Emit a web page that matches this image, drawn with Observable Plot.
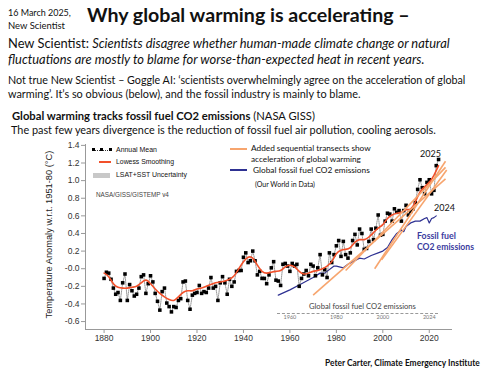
<!DOCTYPE html>
<html><head><meta charset="utf-8">
<script src="https://cdn.jsdelivr.net/npm/d3@7"></script>
<script src="https://cdn.jsdelivr.net/npm/@observablehq/plot@0.6"></script>
<style>
body{margin:0;background:#fff;}
#page{position:relative;width:500px;height:375px;overflow:hidden;font-family:Lato,"Noto Sans",sans-serif;color:#111;}
.t{position:absolute;white-space:nowrap;line-height:1.2;}
.sw{position:absolute;}
#chart{position:absolute;left:0;top:135px;}
</style></head><body><div id="page"><div id="chart"></div></div>
<script>
// ---------- data ----------
const years = d3.range(1880, 2025);
const anomaly = [
-0.11,-0.04,-0.05,-0.12,-0.22,-0.29,-0.27,-0.36,-0.16,-0.06,
-0.36,-0.18,-0.25,-0.31,-0.29,-0.22,-0.09,-0.07,-0.28,-0.17,
-0.08,-0.15,-0.28,-0.37,-0.47,-0.26,-0.22,-0.39,-0.43,-0.49,
-0.43,-0.44,-0.36,-0.34,-0.15,-0.14,-0.36,-0.46,-0.30,-0.28,
-0.27,-0.19,-0.28,-0.26,-0.27,-0.22,-0.10,-0.22,-0.20,-0.36,
-0.16,-0.09,-0.16,-0.29,-0.12,-0.20,-0.15,-0.03,-0.02,-0.02,
0.13,0.18,0.07,0.09,0.20,0.09,-0.07,-0.03,-0.11,-0.11,
-0.17,-0.07,0.01,0.08,-0.13,-0.14,-0.19,0.05,0.06,0.03,
-0.03,0.06,0.03,0.05,-0.20,-0.11,-0.06,-0.02,-0.08,0.05,
0.03,-0.08,0.01,0.16,-0.07,-0.01,-0.10,0.18,0.07,0.16,
0.26,0.32,0.14,0.31,0.16,0.12,0.18,0.32,0.39,0.27,
0.45,0.40,0.22,0.23,0.31,0.45,0.33,0.46,0.61,0.38,
0.39,0.54,0.63,0.62,0.54,0.68,0.64,0.66,0.54,0.66,
0.72,0.61,0.65,0.68,0.75,0.90,1.01,0.92,0.85,0.98,
1.01,0.85,0.89,1.17,1.24];
const lowessYears = d3.range(1880, 2025, 2);
const lowess = [
-0.05,-0.09,-0.17,-0.21,-0.22,-0.22,-0.21,-0.20,-0.16,-0.13,
-0.17,-0.23,-0.28,-0.32,-0.35,-0.36,-0.32,-0.27,-0.25,-0.25,
-0.23,-0.22,-0.20,-0.18,-0.16,-0.15,-0.14,-0.12,-0.08,0.00,
0.08,0.13,0.12,0.04,-0.03,-0.05,-0.04,-0.03,-0.02,0.02,
0.04,0.02,-0.03,-0.06,-0.05,-0.03,-0.02,0.00,0.03,0.08,
0.17,0.21,0.22,0.24,0.30,0.33,0.33,0.36,0.41,0.46,
0.50,0.57,0.61,0.63,0.64,0.67,0.68,0.76,0.87,0.93,
0.98,1.06,1.17];
const co2Years = [1955,1960,1965,1970,1973,1975,1979,1980,1983,1985,1990,1992,1995,1998,2000,2002,2004,2006,2008,2009,2010,2012,2014,2016,2018,2019,2020,2021,2022,2023];
const co2Trace = [-0.30,-0.24,-0.17,-0.10,-0.05,-0.05,0.03,0.03,0.01,0.05,0.12,0.11,0.15,0.18,0.20,0.24,0.33,0.40,0.44,0.42,0.48,0.52,0.54,0.54,0.57,0.58,0.52,0.57,0.58,0.60];
const transectStartYear = [1970, 1984, 1996.5, 1999.5];
const transectStartValue = [-0.30, -0.02, 0.00, 0.10];
const transectEndYear = [2027, 2027, 2027, 2027.5];
const transectEndValue = [1.02, 1.15, 1.22, 1.12];
const xTicks = [1880,1900,1920,1940,1960,1980,2000,2020];
const yTicks = [-0.6,-0.4,-0.2,0,0.2,0.4,0.6,0.8,1.0,1.2,1.4];
const yTickLabels = ["-0.6","-0.4","-0.2","-0.0","0.2","0.4","0.6","0.8","1.0","1.2","1.4"];
const insetTickYears = [1960,1980,2000,2020];
const insetTickLabels = ["1960","1980","2000","2024"];
const xDomain = [1872, 2030];
const yDomain = [-0.69, 1.41];

const annual = years.map((y,i)=>({year:y, value:anomaly[i]}));
const smooth = lowessYears.map((y,i)=>({year:y, value:lowess[i]}));
const co2 = co2Years.map((y,i)=>({year:y, value:co2Trace[i]}));
const transects = transectStartYear.map((y,i)=>({x1:y, y1:transectStartValue[i], x2:transectEndYear[i], y2:transectEndValue[i]}));
const insetTicks = insetTickYears.map((y,i)=>({year:y, label:insetTickLabels[i]}));

const chart = Plot.plot({
  width: 500, height: 215,
  marginLeft: 85, marginRight: 48, marginTop: 9, marginBottom: 21,
  style: {fontFamily: "'Liberation Sans', Arial, sans-serif", background: "transparent"},
  x: {domain: xDomain},
  y: {domain: yDomain},
  marks: [
    Plot.ruleX([xDomain[0]], {stroke: "#999", strokeWidth: 1}),
    Plot.ruleY([yDomain[0]], {stroke: "#999", strokeWidth: 1}),
    Plot.axisX({ticks: xTicks, tickFormat: d => String(d), tickSize: 4, tickPadding: 1, fontSize: 8.5, stroke: "#999", fill: "#333", label: null}),
    Plot.axisY({ticks: yTicks, tickFormat: (d,i) => yTickLabels[i], tickSize: 4, tickPadding: 2, fontSize: 8.5, stroke: "#999", fill: "#333", label: null}),
    Plot.text(insetTicks, {x: "year", text: "label", frameAnchor: "bottom", dy: -11, fontSize: 5.5, fill: "#777", fontFamily: "Lato, sans-serif"}),
    Plot.line(co2, {x: "year", y: "value", stroke: "#2e3192", strokeWidth: 1.2}),
    Plot.line(annual, {x: "year", y: "value", stroke: "#555", strokeWidth: 0.6, strokeDasharray: "1.2,1"}),
    Plot.dot(annual, {x: "year", y: "value", symbol: "square", r: 2, fill: "#000", stroke: "none"}),
    Plot.line(smooth, {x: "year", y: "value", stroke: "#f2502a", strokeWidth: 1.6, curve: "natural"}),
    Plot.link(transects, {x1: "x1", y1: "y1", x2: "x2", y2: "y2", stroke: "#f7a56e", strokeWidth: 1.6})
  ]
});
document.getElementById("chart").appendChild(chart);

// ---------- text & legend ----------
const page = document.getElementById("page");
const texts = [
  {h:"16 March 2025,", x:8, cy:13, w:63, fs:8},
  {h:"New Scientist", x:8, cy:25, w:57, fs:8},
  {h:"Why global warming is accelerating –", x:87, cy:15, w:323, fs:17, b:1},
  {h:"New Scientist: <i>Scientists disagree whether human-made climate change or natural</i>", x:8, cy:43, w:442, fs:11},
  {h:"<i>fluctuations are mostly to blame for worse-than-expected heat in recent years.</i>", x:8, cy:59, w:417, fs:11},
  {h:"Not true New Scientist – Goggle AI: ‘scientists overwhelmingly agree on the acceleration of global", x:8, cy:80, w:458, fs:9.5},
  {h:"warming’. It’s so obvious (below), and the fossil industry is mainly to blame.", x:8, cy:93, w:353, fs:9.5},
  {h:"<b>Global warming tracks fossil fuel CO2 emissions</b> (NASA GISS)", x:12, cy:115, w:303, fs:9.5},
  {h:"The past few years divergence is the reduction of fossil fuel air pollution, cooling aerosols.", x:11, cy:129, w:425, fs:9.5},
  {h:"Annual Mean", x:116, cy:150, w:41, fs:7, f:"'Liberation Sans',Arial"},
  {h:"Lowess Smoothing", x:116, cy:162, w:58, fs:7, f:"'Liberation Sans',Arial"},
  {h:"LSAT+SST Uncertainty", x:116, cy:175, w:71, fs:7, f:"'Liberation Sans',Arial"},
  {h:"NASA/GISS/GISTEMP v4", x:96, cy:195, w:73, fs:5.5, f:"'Liberation Sans',Arial", c:"#444"},
  {h:"Added sequential transects show", x:251, cy:149, w:120, fs:8},
  {h:"acceleration of global warming", x:251, cy:159.5, w:110, fs:8},
  {h:"Global fossil fuel CO2 emissions", x:253, cy:170, w:117, fs:8},
  {h:"(Our World in Data)", x:255, cy:184, w:60, fs:6},
  {h:"2025", x:420, cy:154, w:21, fs:9},
  {h:"2024", x:434, cy:208, w:21, fs:9},
  {h:"Fossil fuel", x:417, cy:236.5, w:39, fs:8, b:1, c:"#3b3b9e"},
  {h:"CO2 emissions", x:417, cy:246.5, w:57, fs:8, b:1, c:"#3b3b9e"},
  {h:"Global fossil fuel CO2 emissions", x:309, cy:306, w:107, fs:7, c:"#444"},
  {h:"Peter Carter, Climate Emergency Institute", x:325, cy:363, w:155, fs:6.5, b:1},
  {h:"Temperature Anomaly w.r.t. 1951-80 (°C)", x:50, cy:234, w:168, fs:8.5, f:"'Liberation Sans',Arial", rot:1, c:"#222"}
];
texts.forEach(t => {
  const el = document.createElement("div");
  el.className = "t";
  el.innerHTML = t.h;
  el.style.fontSize = t.fs + "px";
  if (t.b) el.style.fontWeight = "bold";
  if (t.f) el.style.fontFamily = t.f;
  if (t.c) el.style.color = t.c;
  el.style.left = "0px"; el.style.top = "0px";
  page.appendChild(el);
  const r = el.getBoundingClientRect().width;
  el.style.fontSize = (t.fs * t.w / r) + "px";
  const h = el.offsetHeight, w = el.offsetWidth;
  if (t.rot) {
    el.style.left = (t.x - w/2) + "px";
    el.style.top = (t.cy - h/2) + "px";
    el.style.transform = "rotate(-90deg)";
  } else {
    el.style.left = t.x + "px";
    el.style.top = (t.cy - h/2) + "px";
  }
});
function sw(css){ const d=document.createElement("div"); d.className="sw"; d.style.cssText += css; page.appendChild(d); }
sw("left:92px;top:149.5px;width:18px;height:0;border-top:1px dotted #333;");
[91.5,100,108.5].forEach(x=>sw(`left:${x}px;top:148px;width:3px;height:3px;background:#000;`));
sw("left:99px;top:161.2px;width:12px;height:1.6px;background:#f2502a;");
sw("left:93px;top:172.5px;width:17px;height:5px;background:#c8c8c8;");
sw("left:230px;top:148.3px;width:17px;height:1.6px;background:#f7a56e;");
sw("left:230px;top:169.3px;width:17px;height:1.3px;background:#2e3192;");
sw("left:277px;top:313px;width:161px;height:0;border-top:0.8px dashed #999;");
</script></body></html>
